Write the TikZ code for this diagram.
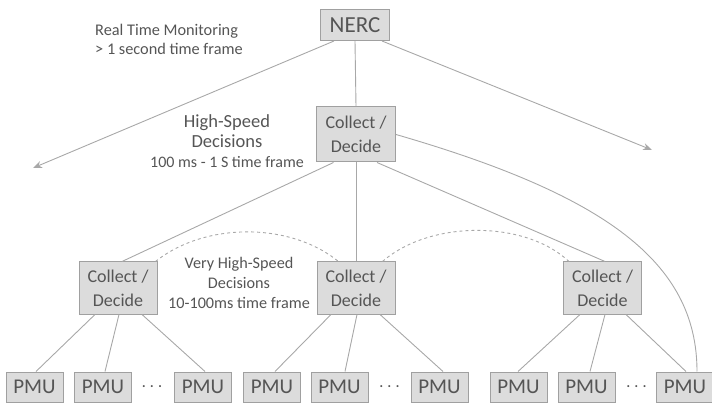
\documentclass[tikz,border=0pt]{standalone}
\usepackage{fontspec}
\setmainfont{Carlito}
\usetikzlibrary{arrows.meta,calc}
\definecolor{boxfill}{HTML}{DCDCDC}
\definecolor{boxline}{HTML}{A0A0A0}
\definecolor{wirec}{HTML}{A8A8A8}
\definecolor{ink}{HTML}{555555}
\begin{document}
\begin{tikzpicture}[x=1pt,y=-1pt,
  box/.style={draw=boxline,fill=boxfill,line width=1pt,text=ink,inner sep=0pt,align=center},
  pmu/.style={box,minimum width=57pt,minimum height=30pt,font=\fontsize{21}{21}\selectfont},
  cd/.style={box,minimum width=78pt,minimum height=52pt,font=\fontsize{18}{24}\selectfont},
  wire/.style={draw=wirec,line width=0.9pt},
  tip/.style={-{Stealth[length=9pt,width=7pt]}},
  lbl/.style={text=ink,inner sep=0pt},
  dots/.style={text=ink,inner sep=0pt,font=\fontsize{14}{14}\selectfont}
]
\path[use as bounding box] (0,0) rectangle (712,403);

% boxes
\node[box,minimum width=69pt,minimum height=31pt,font=\fontsize{23}{23}\selectfont] (nerc) at (355,25) {NERC};
\node[box,minimum width=79pt,minimum height=55pt,font=\fontsize{18}{24}\selectfont] (tc) at (356,134.5) {Collect /\\Decide};
\node[cd] (lc) at (118,288) {Collect /\\Decide};
\node[cd] (mc) at (356,288) {Collect /\\Decide};
\node[cd] (rc) at (602.5,288) {Collect /\\Decide};

\node[pmu] (p1) at (34.5,387) {PMU};
\node[pmu] (p2) at (103,387) {PMU};
\node[pmu] (p3) at (203,387) {PMU};
\node[pmu] (p4) at (272,387) {PMU};
\node[pmu] (p5) at (339.5,387) {PMU};
\node[pmu] (p6) at (439.5,387) {PMU};
\node[pmu] (p7) at (518.5,387) {PMU};
\node[pmu] (p8) at (586.5,387) {PMU};
\node[pmu] (p9) at (685,387) {PMU};

\node[dots] (d1) at (152,388) {·\,\,·\,\,·};
\node[dots] (d2) at (389.5,388) {·\,\,·\,\,·};
\node[dots] (d3) at (636.5,388) {·\,\,·\,\,·};

% labels
\node[lbl,anchor=west,align=left,font=\fontsize{16.3}{19}\selectfont] (rtm) at (95,39.5) {Real Time Monitoring\\> 1 second time frame};
\node[lbl,align=center,font=\fontsize{18.5}{20}\selectfont] (hs) at (227,141) {High-Speed\\Decisions\\{\fontsize{16}{20}\selectfont 100 ms - 1 S time frame}};
\node[lbl,align=center,font=\fontsize{16.2}{20}\selectfont] (vhs) at (239,283) {Very High-Speed\\Decisions\\10-100ms time frame};

% free arrow ends
\coordinate (al) at (33,168);
\coordinate (ar) at (652,150);

% connectors from NERC
\draw[wire,tip] ($(nerc.south west)+(14,0)$) -- (al);
\draw[wire,tip] ($(nerc.south east)+(-8,0)$) -- (ar);
\draw[wire] (nerc.south) -- (tc.north);

% from top collect
\draw[wire] ($(tc.south west)+(17.5,0)$) -- ($(lc.north)+(4,0)$);
\draw[wire] (tc.south) -- (mc.north);
\draw[wire] ($(tc.south)+(21,0)$) -- ($(rc.north)+(2.5,0)$);
\draw[wire] (tc.east) .. controls (605,195) and (697,262) .. ($(p9.north)+(12,0)$);

% dashed links
\draw[wire,dash pattern=on 3pt off 3pt] ($(lc.north east)+(-2,0)$) .. controls (205,222) and (290,222) .. ($(mc.north west)+(22,0)$);
\draw[wire,dash pattern=on 3pt off 3pt] ($(mc.north east)+(-13,0)$) .. controls (430,220) and (525,220) .. ($(rc.north west)+(6,0)$);

% to PMUs
\draw[wire] ($(lc.south)+(-23,0)$) -- ($(p1.north)+(1.5,0)$);
\draw[wire] ($(lc.south)+(1,0)$) -- ($(p2.north)+(2,0)$);
\draw[wire] ($(lc.south)+(24,0)$) -- ($(p3.north)+(2,0)$);
\draw[wire] ($(mc.south)+(-25,0)$) -- ($(p4.north)+(3,0)$);
\draw[wire] ($(mc.south)+(1,0)$) -- ($(p5.north)+(5.5,0)$);
\draw[wire] ($(mc.south)+(24,0)$) -- ($(p6.north)+(3.5,0)$);
\draw[wire] ($(rc.south)+(-22.5,0)$) -- ($(p7.north)+(-0.5,0)$);
\draw[wire] ($(rc.south)+(2.5,0)$) -- ($(p8.north)+(3.5,0)$);
\draw[wire] ($(rc.south)+(23.5,0)$) -- ($(p9.north)+(1,0)$);
\end{tikzpicture}
\end{document}
